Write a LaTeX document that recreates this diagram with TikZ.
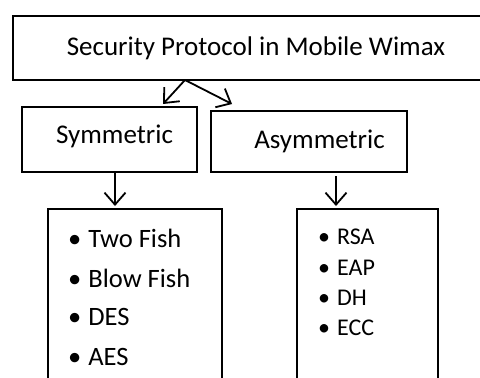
\documentclass[tikz,border=0pt]{standalone}
\usepackage{fontspec}
\setmainfont{Carlito}
\usetikzlibrary{arrows.meta}
\tikzset{
  box/.style={draw, line width=1.6pt, inner sep=0pt},
  arr/.style={line width=1.8pt, -{Straight Barb[length=12pt,width=21pt,line width=1.8pt]}},
  big/.style={font=\fontsize{27}{30}\selectfont},
  lit/.style={font=\fontsize{26.5}{30}\selectfont, anchor=west, inner sep=0pt},
  sml/.style={font=\fontsize{24}{27}\selectfont, anchor=west, inner sep=0pt},
}
\begin{document}
\begin{tikzpicture}[x=1pt,y=-1pt]
\useasboundingbox (0,0) rectangle (480,378);
\clip (0,0) rectangle (480,378);
% top box (right edge off page)
\draw[line width=1.6pt] (486,16) -- (13,16) -- (13,80) -- (486,80);
\node[big] (top) at (256,48) {Security Protocol in Mobile Wimax};
\coordinate (apex) at (185,80);
% second level
\node[box, minimum width=175pt, minimum height=65pt] (sym) at (109.5,139.5) {};
\node[big] (symt) at (114.5,136) {Symmetric};
\node[box, minimum width=196pt, minimum height=61pt] (asym) at (309,141.5) {};
\node[big] (asymt) at (319.5,141) {Asymmetric};
% arrows from top
\coordinate (la) at (163,104);
\coordinate (ra) at (232,104);
\draw[arr] (apex) -- (la);
\draw[arr] (apex) -- (ra);
% list boxes (extend below the page)
\draw[box] (48,209) rectangle (222,400);
\draw[box] (297,209) rectangle (438,400);
\coordinate (lb) at (115,206);
\coordinate (rb) at (336,206);
\coordinate (ls) at (115,172);
\coordinate (rs) at (336,176);
\draw[arr] (ls) -- (lb);
\draw[arr] (rs) -- (rb);
% left items
\node[lit] (l1) at (68,238) {•\hspace{7pt}Two Fish};
\node[lit] (l2) at (68,278) {•\hspace{7pt}Blow Fish};
\node[lit] (l3) at (68,317) {•\hspace{7pt}DES};
\node[lit] (l4) at (68,357) {•\hspace{7pt}AES};
% right items
\node[sml] (r1) at (318,237) {•\hspace{7pt}RSA};
\node[sml] (r2) at (318,268) {•\hspace{7pt}EAP};
\node[sml] (r3) at (318,298) {•\hspace{7pt}DH};
\node[sml] (r4) at (318,328) {•\hspace{7pt}ECC};
\end{tikzpicture}
\end{document}
